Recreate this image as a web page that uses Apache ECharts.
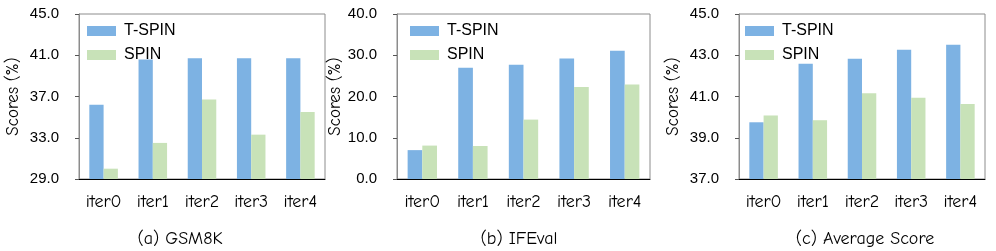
<!DOCTYPE html>
<html><head><meta charset="utf-8">
<script src="https://cdn.jsdelivr.net/npm/echarts@6/dist/echarts.min.js"></script>
<style>html,body{margin:0;padding:0;background:#fff}#c{width:996px;height:251px}</style>
</head><body><div id="c"></div>
<script>
const categories = ['iter0','iter1','iter2','iter3','iter4'];
const gsmTSpin = [36.2, 40.6, 40.7, 40.7, 40.7];
const gsmSpin = [30.0, 32.5, 36.7, 33.3, 35.5];
const ifTSpin = [7.0, 27.0, 27.7, 29.2, 31.1];
const ifSpin = [8.1, 8.0, 14.4, 22.3, 22.9];
const avgTSpin = [39.75, 42.59, 42.83, 43.27, 43.51];
const avgSpin = [40.08, 39.85, 41.16, 40.94, 40.64];
const panelTitles = ['(a) GSM8K', '(b) IFEval', '(c) Average Score'];
const yRanges = [[29, 45, 4], [0, 40, 10], [37, 45, 2]];

const BLUE = '#7DB2E3', GREEN = '#C8E2B8';
const comic = "'Comic Sans MS','Comic Neue','Noto Sans',sans-serif";
const arial = "'Liberation Sans',Arial,sans-serif";
const grids = [
  {left: 79, width: 246, top: 14, height: 165},
  {left: 397, width: 253, top: 14, height: 165},
  {left: 739, width: 246, top: 14, height: 165}
];
const nameGaps = [57, 52, 57];
const titleX = [175, 514, 860];
const legendX = [87, 410, 745];
const seriesData = [[gsmTSpin, gsmSpin], [ifTSpin, ifSpin], [avgTSpin, avgSpin]];

const option = {
  animation: false,
  grid: grids.map(g => Object.assign({show: true, borderColor: '#8c8c8c', borderWidth: 1}, g)),
  title: panelTitles.map((t, i) => ({
    text: t, left: titleX[i], top: 225, textAlign: 'center',
    textStyle: {fontFamily: comic, fontSize: 18, fontWeight: 'normal', color: '#000'}
  })),
  legend: [0,1,2].map(i => ({
    left: legendX[i], top: 23, orient: 'vertical', itemWidth: 29, itemHeight: 10, itemGap: 8,
    icon: 'rect', padding: 0,
    textStyle: {fontFamily: arial, fontSize: 16, color: '#000', padding: [0,0,0,3]},
    data: [{name: 'T-SPIN'}, {name: 'SPIN'}]
  })),
  xAxis: [0,1,2].map(i => ({
    type: 'category', gridIndex: i, data: categories,
    axisLine: {lineStyle: {color: '#000', width: 1}},
    axisTick: {inside: true, length: 4, lineStyle: {color: '#333'}},
    axisLabel: {fontFamily: comic, fontSize: 18, color: '#000', margin: 14}
  })),
  yAxis: [0,1,2].map(i => ({
    type: 'value', gridIndex: i, min: yRanges[i][0], max: yRanges[i][1], interval: yRanges[i][2],
    name: 'Scores (%)', nameLocation: 'middle', nameGap: nameGaps[i],
    nameTextStyle: {fontFamily: comic, fontSize: 17, color: '#000'},
    axisLine: {show: true, lineStyle: {color: '#8c8c8c'}},
    axisTick: {show: true, length: 4, lineStyle: {color: '#555'}},
    splitLine: {show: false},
    axisLabel: {fontFamily: arial, fontSize: 15, color: '#000', margin: 20,
      formatter: v => v.toFixed(1)}
  })),
  series: []
};
seriesData.forEach((pair, i) => {
  option.series.push({name: 'T-SPIN', type: 'bar', xAxisIndex: i, yAxisIndex: i, data: pair[0],
    barWidth: '29%', barGap: '0%', itemStyle: {color: BLUE}});
  option.series.push({name: 'SPIN', type: 'bar', xAxisIndex: i, yAxisIndex: i, data: pair[1],
    barWidth: '29%', barGap: '0%', itemStyle: {color: GREEN}});
});
const chart = echarts.init(document.getElementById('c'), null, {renderer: 'canvas'});
chart.setOption(option);
</script></body></html>
